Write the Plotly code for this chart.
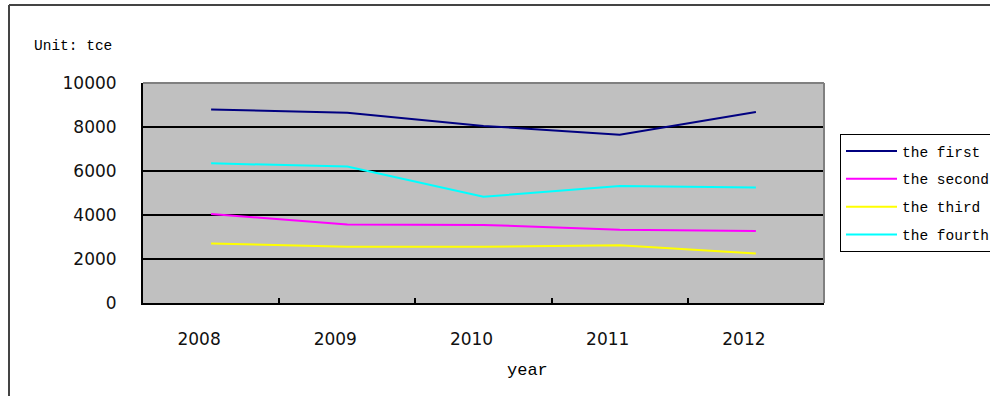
import plotly.graph_objects as go

# Annual consumption per quarter-group, in tce
years = ["2008", "2009", "2010", "2011", "2012"]
series_names = ["the first", "the second", "the third", "the fourth"]
first = [8800, 8650, 8050, 7650, 8680]
second = [4050, 3570, 3550, 3330, 3270]
third = [2710, 2560, 2560, 2620, 2250]
fourth = [6350, 6200, 4830, 5320, 5250]
y_ticks = [0, 2000, 4000, 6000, 8000, 10000]
y_tick_labels = ["0", "2000", "4000", "6000", "8000", "10000"]

series_values = [first, second, third, fourth]
series_colors = ["#000080", "#FF00FF", "#FFFF00", "#00FFFF"]

W, H = 990, 396
L, R, T, B = 143, 824, 83, 303  # plot area in pixels


def px_x(px):
    return (px - L) / (R - L)


def px_y(py):
    return (B - py) / (B - T)


fig = go.Figure()
for i, (name, vals, col) in enumerate(zip(series_names, series_values, series_colors)):
    fig.add_trace(go.Scatter(
        x=years, y=vals, name=name, mode="lines",
        line=dict(color=col, width=2),
        legendgroup=f"g{i}",
    ))

mono = "Liberation Mono, Courier New, monospace"
num_font = dict(family="DejaVu Sans, sans-serif", size=17, color="#111111")

fig.update_layout(
    width=W, height=H,
    margin=dict(l=L, r=W - R, t=T, b=H - B, autoexpand=False),
    paper_bgcolor="white",
    plot_bgcolor="#C0C0C0",
    showlegend=True,
    legend=dict(
        x=px_x(840), y=px_y(134), xanchor="left", yanchor="top",
        bgcolor="white", bordercolor="black", borderwidth=1,
        font=dict(family=mono, size=14.5, color="black"),
        tracegroupgap=6,
        itemwidth=51,
    ),
    xaxis=dict(
        type="category", range=[-0.5, 4.5],
        showgrid=False, zeroline=False,
        showline=True, linecolor="black", linewidth=2,
        ticks="inside", ticklen=5, tickcolor="black", tickwidth=2,
        tickson="boundaries",
        tickfont=num_font, ticklabelstandoff=20, ticklabelshift=-12,
        fixedrange=True,
    ),
    yaxis=dict(
        range=[0, 10000], tickvals=y_ticks, ticktext=y_tick_labels,
        showgrid=True, gridcolor="black", gridwidth=2,
        zeroline=False,
        showline=True, linecolor="black", linewidth=2,
        ticks="", tickfont=num_font, ticklabelstandoff=21,
        fixedrange=True,
    ),
    annotations=[
        dict(text="Unit: tce", xref="paper", yref="paper",
             x=px_x(32), y=px_y(46), xanchor="left", yanchor="middle",
             showarrow=False, font=dict(family=mono, size=14.5, color="black")),
        dict(text="year", xref="paper", yref="paper",
             x=px_x(527), y=px_y(370), xanchor="center", yanchor="middle",
             showarrow=False, font=dict(family=mono, size=17, color="black")),
    ],
    shapes=[
        # grey top and right edges of the plot area
        dict(type="line", xref="paper", yref="paper", x0=0, x1=1, y0=1, y1=1,
             line=dict(color="#808080", width=2), layer="above"),
        dict(type="line", xref="paper", yref="paper", x0=1, x1=1, y0=0, y1=1,
             line=dict(color="#808080", width=2), layer="above"),
        # outer chart frame
        dict(type="line", xref="paper", yref="paper",
             x0=px_x(9), x1=px_x(W + 5), y0=px_y(5), y1=px_y(5),
             line=dict(color="#444444", width=2)),
        dict(type="line", xref="paper", yref="paper",
             x0=px_x(9), x1=px_x(9), y0=px_y(5), y1=px_y(H + 5),
             line=dict(color="#444444", width=2)),
    ],
)

fig.write_html("out.html")
